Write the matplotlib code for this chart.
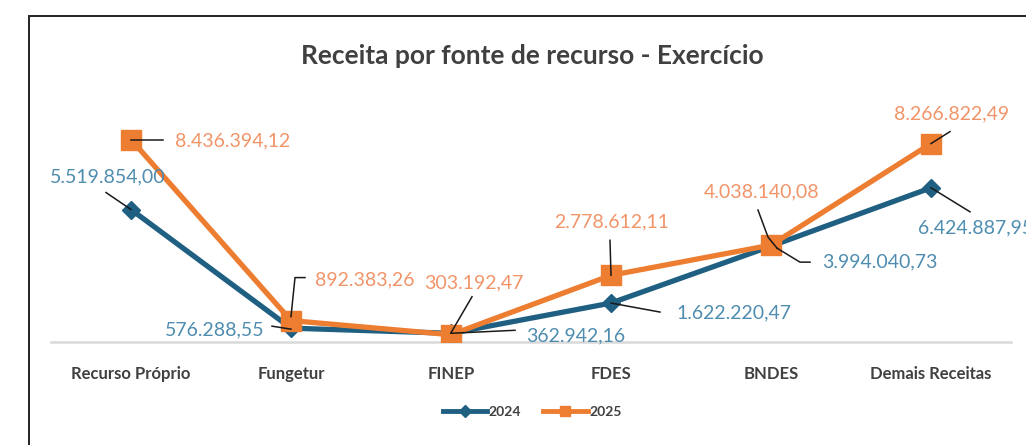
import matplotlib
matplotlib.use("Agg")
import matplotlib.pyplot as plt
import numpy as np
from matplotlib.patches import Rectangle
from matplotlib.lines import Line2D

categories = ["Recurso Próprio", "Fungetur", "FINEP", "FDES", "BNDES", "Demais Receitas"]
values_2024 = [5519854.00, 576288.55, 362942.16, 1622220.47, 3994040.73, 6424887.95]
values_2025 = [8436394.12, 892383.26, 303192.47, 2778612.11, 4038140.08, 8266822.49]
labels_2024 = ["5.519.854,00", "576.288,55", "362.942,16", "1.622.220,47", "3.994.040,73", "6.424.887,95"]
labels_2025 = ["8.436.394,12", "892.383,26", "303.192,47", "2.778.612,11", "4.038.140,08", "8.266.822,49"]
series_names = ["2024", "2025"]
title = "Receita por fonte de recurso - Exercício"

c24 = "#1F5F82"
c25 = "#ED7D31"
t24 = "#4F8DB0"
t25 = "#F19468"

plt.rcParams['font.family'] = ['Lato', 'DejaVu Sans']

W, H = 1026, 445
fig = plt.figure(figsize=(W / 100, H / 100), dpi=100)
fig.patch.set_facecolor("white")

# outer frame (cropped chart area)
fig.patches.append(Rectangle((29 / W, -0.1), 1.2, 1 - 16 / H + 0.1, transform=fig.transFigure,
                             fill=False, edgecolor="#222222", linewidth=1.4, zorder=0))

ax = fig.add_axes([51 / W, 1 - 342 / H, 960 / W, 240 / H])
x = list(range(len(categories)))
ax.set_xlim(-0.5, len(categories) - 0.5)
ax.set_ylim(0, 10_000_000)

ax.plot(x, values_2024, color=c24, lw=3.8, marker="D", ms=9, mfc=c24, mec=c24,
        label=series_names[0], zorder=3, solid_joinstyle="round")
ax.plot(x, values_2025, color=c25, lw=3.8, marker="s", ms=14, mfc=c25, mec=c25,
        label=series_names[1], zorder=4, solid_joinstyle="round")

for s in ["top", "right", "left"]:
    ax.spines[s].set_visible(False)
ax.spines["bottom"].set_color("#D9D9D9")
ax.spines["bottom"].set_linewidth(1.8)
ax.set_yticks([])
ax.set_xticks(x)
ax.set_xticklabels(categories, fontsize=12, fontweight="bold", color="#404040")
ax.tick_params(axis="x", length=0, pad=17)

fig.text(532 / W, 1 - 56 / H, title, ha="center", va="center", fontsize=19,
         fontweight="bold", color="#404040")

# label offsets (pixels): text offset, ha, leader polyline offsets
lab24 = [((-23, 33), "center", [(-25, 17), (0, 0)]),
         ((-26, -2), "right", [(-19, 2), (0, -1)]),
         ((75, -3), "left", [(64, 3), (0, 0)]),
         ((65, -10), "left", [(49, -9), (0, 0)]),
         ((51, -16), "left", [(39, -16), (29, -16), (6, -2)]),
         ((-13, -40), "left", [(39, -24), (0, 0)])]
lab25 = [((44, -1), "left", [(32, 0), (0, 0)]),
         ((24, 41), "left", [(14, 43), (4, 43), (0, 4)]),
         ((23, 52), "center", [(21, 38), (0, 2)]),
         ((1, 53), "center", [(-1, 35), (0, 0)]),
         ((-9, 53), "center", [(-13, 35), (-3, 8), (6, -3)]),
         ((21, 30), "center", [(19, 12), (0, 0)])]

def draw_labels(vals, texts, specs, tcolor):
    for xi, v, t, (toff, ha, leader) in zip(x, vals, texts, specs):
        ax.annotate(t, xy=(xi, v), xytext=toff, textcoords="offset pixels",
                    ha=ha, va="center", fontsize=14, color=tcolor,
                    annotation_clip=False, zorder=6)
        base = ax.transData.transform((xi, v))
        pts = np.array(leader, dtype=float) + base
        fig.add_artist(Line2D(pts[:, 0], pts[:, 1], transform=None,
                              color="#1a1a1a", lw=1.1, zorder=5))

draw_labels(values_2024, labels_2024, lab24, t24)
draw_labels(values_2025, labels_2025, lab25, t25)

handles = [Line2D([], [], color=c24, lw=3.5, marker="D", ms=6),
           Line2D([], [], color=c25, lw=3.5, marker="s", ms=7)]
leg = fig.legend(handles, series_names, loc="center", bbox_to_anchor=(532 / W, 1 - 412 / H),
                 ncol=2, frameon=False, handlelength=3.2, handletextpad=0.1,
                 columnspacing=1.6, prop={"size": 10, "weight": "bold"})
for txt in leg.get_texts():
    txt.set_color("#404040")

fig.savefig("out.png", dpi=100, facecolor="white")
